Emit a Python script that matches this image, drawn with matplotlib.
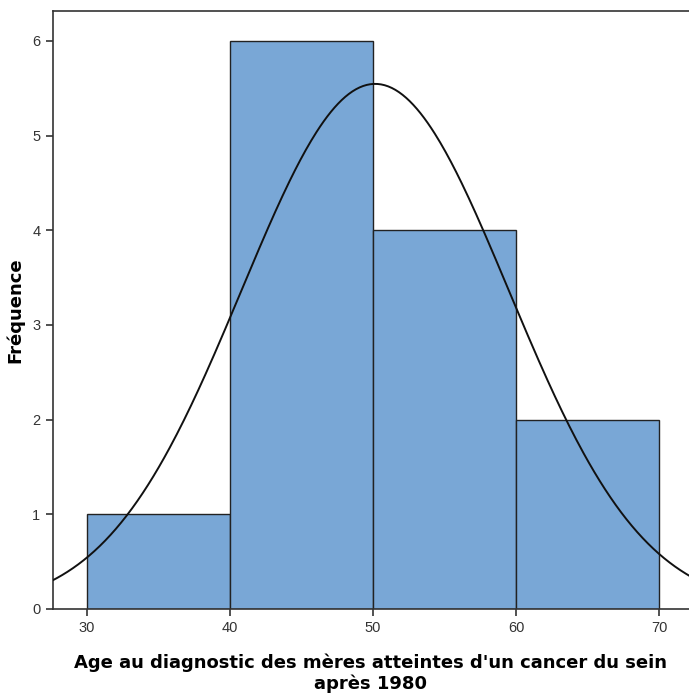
import numpy as np
import matplotlib
matplotlib.use("Agg")
import matplotlib.pyplot as plt

plt.rcParams["font.family"] = ["Liberation Sans", "DejaVu Sans"]

# histogram bins and counts
bin_edges = [30, 40, 50, 60, 70]
counts = [1, 6, 4, 2]

# fitted normal curve (SPSS overlay)
mean_age = 50.15
sd_age = 9.35
n_obs = 13
bin_width = 10

fig = plt.figure(figsize=(6.89, 6.99), dpi=100)
ax = fig.add_axes([0.0769, 0.1288, 0.9231, 0.8555])

ax.bar(bin_edges[:-1], counts, width=np.diff(bin_edges), align="edge",
       color="#79A7D6", edgecolor="#222222", linewidth=1.0, zorder=2)

xs = np.linspace(25, 75, 400)
ys = n_obs * bin_width / (sd_age * np.sqrt(2 * np.pi)) * np.exp(-(xs - mean_age) ** 2 / (2 * sd_age ** 2))
ax.plot(xs, ys, color="#111111", linewidth=1.4, zorder=3)

ax.set_xlim(27.62, 72.1)
ax.set_ylim(0, 6.317)
ax.set_xticks([30, 40, 50, 60, 70])
ax.set_yticks([0, 1, 2, 3, 4, 5, 6])

for side in ["left", "top", "bottom"]:
    ax.spines[side].set_color("#333333")
    ax.spines[side].set_linewidth(1.2)
ax.spines["right"].set_visible(False)

ax.tick_params(axis="both", direction="out", length=5, width=1.2, color="#333333",
               labelsize=10.5, labelcolor="#333333", pad=4)

label_font = {"family": "DejaVu Sans", "weight": "bold", "size": 13}
ax.set_xlabel("Age au diagnostic des mères atteintes d'un cancer du sein\naprès 1980",
              fontdict=label_font, labelpad=13, linespacing=1.2)
ax.set_ylabel("Fréquence", fontdict=label_font, labelpad=6)

fig.savefig("out.png", dpi=100)
